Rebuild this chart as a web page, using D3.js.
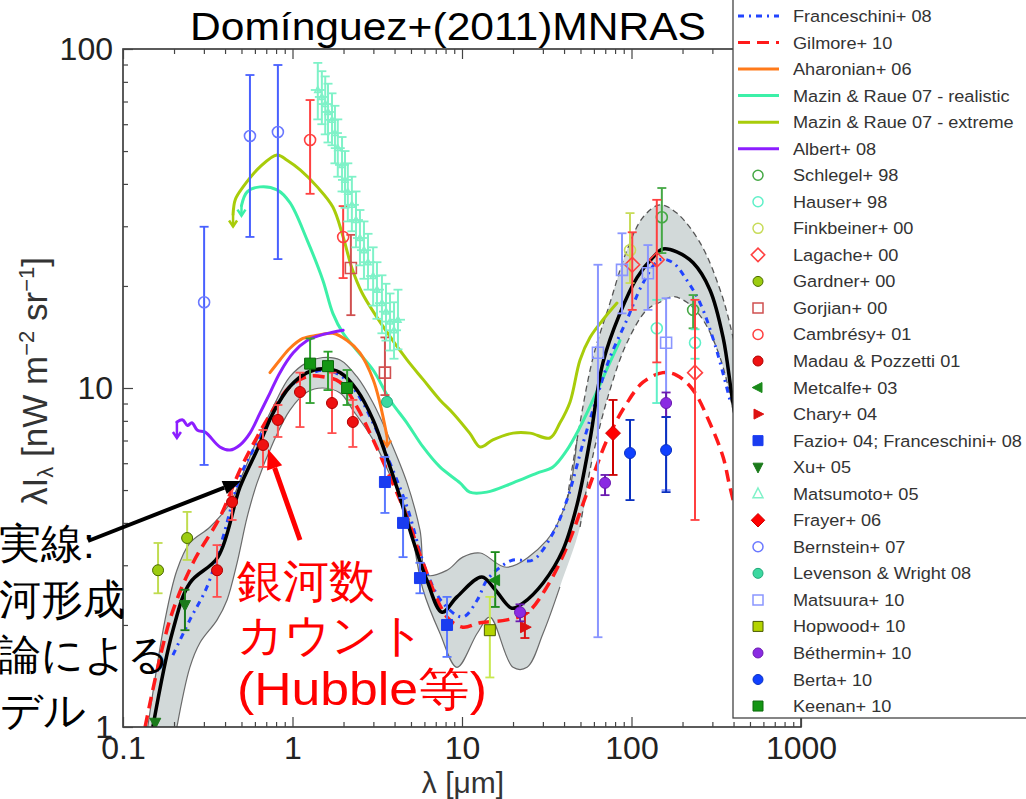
<!DOCTYPE html>
<html><head><meta charset="utf-8">
<script src="https://cdn.jsdelivr.net/npm/d3@7"></script>
<style>
html,body{margin:0;padding:0;background:#fff;}
svg{display:block;}
text{font-family:"Liberation Sans",Arial,Helvetica,sans-serif;}
</style></head><body>
<svg id="chart" width="1026" height="799"></svg>
<script>
// ---------------- data ----------------
const xTickValues = [0.1, 1, 10, 100, 1000];
const xTickLabels = ["0.1", "1", "10", "100", "1000"];
const yTickValues = [1, 10, 100];
const yTickLabels = ["1", "10", "100"];

// model curves: [lambda (um), nuI_nu]
const dominguez11 = [[0.150,1.00],[0.197,1.93],[0.248,2.66],[0.363,3.17],[0.490,5.10],[0.618,6.56],[0.767,8.43],[0.966,10.1],[1.22,11.1],[1.51,11.4],[1.91,11.1],[2.40,9.86],[2.99,8.05],[3.51,6.47],[4.14,5.07],[5.14,3.56],[6.21,2.71],[7.62,2.18],[9.34,2.42],[13.1,2.77],[15.7,2.54],[19.7,2.24],[22.9,2.32],[30.1,2.66],[39.4,3.33],[47.7,4.52],[56.9,7.03],[67.9,11.9],[85.5,16.6],[108,21.2],[134,24.3],[153,25.7],[185,25.2],[231,23.4],[290,19.5],[347,14.1],[397,9.03],[500,4.67]];
const dominguez11Upper = [[0.140,1.0],[0.177,2.07],[0.208,2.90],[0.248,3.49],[0.326,3.89],[0.428,4.58],[0.511,5.61],[0.618,7.03],[0.767,8.79],[0.966,10.8],[1.22,11.9],[1.51,12.3],[1.91,12.1],[2.40,10.8],[2.99,9.03],[3.76,7.03],[4.74,5.25],[5.65,3.81],[6.21,2.81],[8.16,2.90],[10.1,3.17],[12.8,3.26],[18.4,2.96],[31.7,3.56],[41.6,4.67],[47.7,7.03],[59.3,12.3],[74.6,17.8],[94.0,25.5],[117,31.9],[147,34.7],[185,32.8],[254,26.8],[333,19.5],[397,14.1],[573,5.36]];
const dominguez11Lower = [[0.208,1.0],[0.248,1.50],[0.284,1.77],[0.359,2.07],[0.411,2.37],[0.471,3.05],[0.540,4.16],[0.618,5.25],[0.767,6.88],[0.966,8.61],[1.22,9.73],[1.51,10.0],[1.91,9.66],[2.27,8.61],[2.99,7.03],[3.76,5.54],[4.74,4.28],[5.89,2.54],[7.41,1.89],[9.34,1.50],[12.3,1.89],[14.6,2.11],[20.0,1.50],[24.2,1.50],[30.1,1.89],[37.8,2.59],[49.7,3.89],[59.3,6.34],[74.6,9.86],[94.0,13.6],[123,17.0],[147,17.9],[176,18.6],[212,17.9],[264,15.9],[333,12.3],[397,8.61],[535,3.56]];
const franceschini08 = [[0.197,1.63],[0.248,2.07],[0.313,2.59],[0.389,3.63],[0.490,5.46],[0.585,6.56],[0.767,8.43],[0.966,10.1],[1.51,11.3],[1.91,10.9],[2.40,9.66],[2.99,7.88],[3.76,6.01],[4.74,4.46],[6.21,2.85],[7.73,2.32],[10.1,2.11],[12.3,2.37],[14.0,2.71],[16.8,2.96],[20.0,3.11],[26.2,3.11],[34.4,3.73],[41.6,4.67],[51.8,6.88],[62.6,9.41],[74.6,12.3],[94.0,15.9],[117,20.4],[147,23.9],[176,23.4],[212,20.8],[254,17.8],[311,13.4],[381,9.2]];
const gilmore10 = [[0.135,1.0],[0.189,2.07],[0.259,3.05],[0.373,4.16],[0.490,5.73],[0.618,7.17],[0.767,8.61],[0.966,10.1],[1.22,10.8],[1.51,10.8],[1.91,10.4],[2.40,8.79],[2.99,7.03],[3.76,5.46],[4.74,4.16],[5.89,3.05],[8.16,2.11],[10.1,1.97],[12.8,2.03],[18.4,2.07],[24.2,2.17],[31.7,2.59],[41.6,3.40],[54.6,4.90],[71.7,7.03],[94.0,9.03],[117,10.4],[153,11.1],[185,10.9],[231,9.86],[290,7.88],[347,6.26],[381,5.10],[500,3.0]];
const aharonian06 = [[0.736,11.1],[0.843,12.1],[0.966,13.1],[1.15,14.0],[1.40,14.3],[1.73,14.5],[2.10,13.8],[2.50,12.7],[2.99,10.6],[3.28,9.03],[3.61,7.2]];
const mazinRealistic07 = [[0.50,34.5],[0.540,37.9],[0.643,39.2],[0.811,38.4],[0.966,35.2],[1.22,27.3],[1.51,20.8],[1.73,16.6],[1.99,14.5],[2.40,12.9],[2.99,11.3],[3.76,9.22],[4.74,7.88],[5.89,6.70],[7.41,5.85],[9.73,5.25],[11.1,4.93],[14.0,4.93],[20.0,5.25],[27.7,5.61],[34.4,5.85],[41.6,6.56],[49.7,7.67],[59.3,9.22],[74.6,11.9],[85.5,13.8]];
const mazinExtreme07 = [[0.446,32.5],[0.46,36.0],[0.511,39.2],[0.643,44.9],[0.811,48.7],[0.929,47.0],[1.11,44.0],[1.40,39.2],[1.73,34.2],[1.99,27.9],[2.24,22.6],[2.57,19.1],[3.42,15.2],[4.74,12.1],[5.89,10.6],[7.41,9.22],[8.85,8.43],[11.1,7.36],[12.8,6.70],[15.2,7.03],[20.0,7.36],[25.2,7.36],[33.0,7.12],[37.8,7.88],[43.4,9.10],[49.7,12.1],[56.9,14.1],[67.9,15.9],[82.1,17.8]];
const albert08 = [[0.208,7.94],[0.225,8.05],[0.240,7.75],[0.255,7.90],[0.275,7.50],[0.305,7.41],[0.373,6.70],[0.428,6.56],[0.490,6.79],[0.561,7.36],[0.643,8.43],[0.736,9.66],[0.843,11.1],[1.01,12.7],[1.22,13.8],[1.45,14.3],[1.73,14.6],[1.99,14.8]];

// data points: [lambda, value, lower, upper]
const schlegel98 = [[151,31.9,25.0,38.9],[231,17.0,15.0,18.8]];
const hauser98 = [[141,15.0,9.03,18.2],[237,13.6,12.2,14.9]];
const finkbeiner00 = [[98,25.5,20.4,32.8]];
const lagache00 = [[101,23.1,17.0,28.8],[141,23.9,11.9,35.9],[237,11.1,4.08,18.2]];
const gardner00 = [[0.161,2.90,2.48,3.49],[0.239,3.61,3.11,4.31]];
const gorjian00 = [[2.21,22.6,16.4,28.3],[3.51,11.1,9.53,14.1]];
const cambresy01 = [[1.27,53.9,37.4,70.7],[1.99,27.9,21.1,34.4]];
const madau01 = [[0.359,2.90,2.42,3.44],[0.440,4.61,4.08,5.17],[0.670,6.79,5.85,7.52],[0.820,8.05,7.17,8.91],[1.107,9.73,7.67,11.1],[1.71,9.03,7.36,11.1],[2.27,7.94,6.70,9.22]];
const metcalfe03 = [[15.7,2.71,2.26,3.28]];
const chary04 = [[23.5,1.97,1.83,2.17]];
const fazio04 = [[3.51,5.28,4.28,6.26],[4.49,4.00,3.17,4.74],[5.65,2.75,2.48,3.05],[8.16,2.00,1.61,2.42]];
const xu05 = [[0.155,1.03,1.03,1.03],[0.232,2.29,1.93,2.54]];
const matsumoto05 = [[1.41,75.7,62,91],[1.49,72.2,60,86],[1.56,68.8,56,83],[1.62,65.2,53,79],[1.71,61.8,52,74],[1.78,56.5,46,68],[1.85,51.0,42,62],[1.96,45.5,38,55],[2.04,41.1,34,50],[2.12,37.9,31,46],[2.24,34.7,29,42],[2.37,31.3,26,38],[2.50,27.7,23,33.5],[2.64,25.5,21,31],[2.79,23.5,19.5,28.5],[2.99,21.4,17.5,26],[3.15,19.5,16,23.5],[3.37,17.8,14.5,21.5],[3.56,16.8,13.8,20.3],[3.76,15.7,12.9,19],[3.97,14.8,12.2,17.9],[4.19,15.9,13,19.5]];
const frayer06 = [[77.8,7.36,5.54,9.22]];
const bernstein07 = [[0.301,17.9,5.93,29.9],[0.561,55.4,27.9,83.8],[0.820,56.9,24.0,89.7]];
const levenson08 = [[3.61,9.10,9.10,9.10]];
const matsuura10 = [[63.4,12.7,1.84,23.1],[87.9,22.3,16.6,28.6],[125,21.8,17.0,26.4],[160,13.6,5.00,18.4]];
const hopwood10 = [[14.6,1.93,1.40,2.42]];
const bethermin10 = [[22.0,2.18,2.05,2.30],[69.8,5.25,4.83,5.54],[160,9.03,8.21,9.70]];
const berta10 = [[98.0,6.43,4.67,8.05],[160,6.56,4.93,8.21]];
const keenan10 = [[1.27,11.8,9.03,14.0],[1.62,11.6,9.86,12.8],[2.10,10.0,8.91,11.3]];

// ---------------- styles ----------------
const lineSeries = [
  {name:"Franceschini+ 08", data:franceschini08, color:"#2244ff", width:3, dash:"6,5,2,5"},
  {name:"Gilmore+ 10", data:gilmore10, color:"#ff1a1a", width:3.5, dash:"12,7"},
  {name:"Aharonian+ 06", data:aharonian06, color:"#ff7a1a", width:3},
  {name:"Mazin & Raue 07 - realistic", data:mazinRealistic07, color:"#3cf0a8", width:3},
  {name:"Mazin & Raue 07 - extreme", data:mazinExtreme07, color:"#a8cc0a", width:3},
  {name:"Albert+ 08", data:albert08, color:"#8c1eff", width:3}
];
const pointSeries = [
  {name:"Schlegel+ 98", data:schlegel98, shape:"circle", fill:"none", stroke:"#45a845"},
  {name:"Hauser+ 98", data:hauser98, shape:"circle", fill:"none", stroke:"#5ff0c8"},
  {name:"Finkbeiner+ 00", data:finkbeiner00, shape:"circle", fill:"none", stroke:"#c8dc5a"},
  {name:"Lagache+ 00", data:lagache00, shape:"diamond", fill:"none", stroke:"#ff4040"},
  {name:"Gardner+ 00", data:gardner00, shape:"circle", fill:"#9ccc10", stroke:"#4a6a00", err:"#c0dc50"},
  {name:"Gorjian+ 00", data:gorjian00, shape:"square", fill:"none", stroke:"#d05050"},
  {name:"Cambrésy+ 01", data:cambresy01, shape:"circle", fill:"none", stroke:"#ff4040"},
  {name:"Madau & Pozzetti 01", data:madau01, shape:"circle", fill:"#ee1111", stroke:"#b00000", err:"#ff5050"},
  {name:"Metcalfe+ 03", data:metcalfe03, shape:"triLeft", fill:"#1a8a1a", stroke:"#1a8a1a"},
  {name:"Chary+ 04", data:chary04, shape:"triRight", fill:"#dd1111", stroke:"#dd1111"},
  {name:"Fazio+ 04; Franceschini+ 08", data:fazio04, shape:"square", fill:"#1a3cf0", stroke:"#1a3cf0", err:"#5a78ff"},
  {name:"Xu+ 05", data:xu05, shape:"triDown", fill:"#1a7a1a", stroke:"#1a7a1a"},
  {name:"Matsumoto+ 05", data:matsumoto05, shape:"triUp", fill:"none", stroke:"#7ff2c8", hbar:true, r:3},
  {name:"Frayer+ 06", data:frayer06, shape:"diamond", fill:"#ff0000", stroke:"#cc0000"},
  {name:"Bernstein+ 07", data:bernstein07, shape:"circle", fill:"none", stroke:"#6a78ff", err:"#4860ff"},
  {name:"Levenson & Wright 08", data:levenson08, shape:"circle", fill:"#3cd8a0", stroke:"#20a878"},
  {name:"Matsuura+ 10", data:matsuura10, shape:"square", fill:"none", stroke:"#8a96ff"},
  {name:"Hopwood+ 10", data:hopwood10, shape:"square", fill:"#b4d400", stroke:"#4a5a00", err:"#c8e850"},
  {name:"Béthermin+ 10", data:bethermin10, shape:"circle", fill:"#8a2be2", stroke:"#6a1ab0"},
  {name:"Berta+ 10", data:berta10, shape:"circle", fill:"#1040ff", stroke:"#0a30c0"},
  {name:"Keenan+ 10", data:keenan10, shape:"square", fill:"#149614", stroke:"#0a6a0a", err:"#30a030"}
];

// ---------------- chart ----------------
const svg = d3.select("#chart");
const x = d3.scaleLog().domain([0.1, 1000]).range([123, 801]);
const y = d3.scaleLog().domain([1, 100]).range([727, 49]);

svg.append("defs").append("clipPath").attr("id","plotclip")
  .append("rect").attr("x",123).attr("y",49).attr("width",678).attr("height",678);

const plot = svg.append("g").attr("clip-path","url(#plotclip)");
const curve = d3.curveCatmullRom.alpha(0.5);
const lineGen = d3.line().x(d=>x(d[0])).y(d=>y(d[1])).curve(curve);

// uncertainty band
const upPath = lineGen(dominguez11Upper);
const loPath = lineGen(dominguez11Lower.slice().reverse());
plot.append("path").attr("d", upPath + "L" + loPath.slice(1) + "Z")
  .attr("fill","#d2d9d9").attr("stroke","none");
[dominguez11Upper, dominguez11Lower].forEach(b=>{
  plot.append("path").attr("d", lineGen(b.filter(d=>d[0]<=47.7)))
    .attr("fill","none").attr("stroke","#6a6a6a").attr("stroke-width",1.2);
  plot.append("path").attr("d", lineGen(b.filter(d=>d[0]>=41.6)))
    .attr("fill","none").attr("stroke","#555").attr("stroke-width",1.3).attr("stroke-dasharray","6,4");
});

function downArrow(g, d, stem, color){
  const px = x(d[0]), py = y(d[1]);
  g.append("line").attr("x1",px).attr("x2",px).attr("y1",py).attr("y2",py+stem)
    .attr("stroke",color).attr("stroke-width",2.5);
  g.append("path").attr("d",`M${px-4},${py+stem-6}L${px},${py+stem}L${px+4},${py+stem-6}`)
    .attr("fill","none").attr("stroke",color).attr("stroke-width",2.5);
}

// coloured model lines (drawn under the black model)
const order = [3,4,2,5,0,1];
order.forEach(i=>{
  const s = lineSeries[i];
  plot.append("path").attr("d", lineGen(s.data)).attr("fill","none")
    .attr("stroke", s.color).attr("stroke-width", s.width)
    .attr("stroke-dasharray", s.dash || null).attr("stroke-linecap", s.dash ? "butt":"round");
});
downArrow(plot, mazinRealistic07[0], 10, lineSeries[3].color);
downArrow(plot, mazinExtreme07[0], 12, lineSeries[4].color);
downArrow(plot, aharonian06[aharonian06.length-1], 10, lineSeries[2].color);
downArrow(plot, albert08[0], 16, lineSeries[5].color);

// black model line
plot.append("path").attr("d", lineGen(dominguez11)).attr("fill","none")
  .attr("stroke","#000").attr("stroke-width",3.5).attr("stroke-linejoin","round");

function shapePath(shape, r){
  switch(shape){
    case "circle": return d3.symbol(d3.symbolCircle, Math.PI*r*r)();
    case "square": return `M${-r},${-r}H${r}V${r}H${-r}Z`;
    case "diamond": { const s=r*1.35; return `M0,${-s}L${s},0L0,${s}L${-s},0Z`; }
    case "triUp": return `M0,${-r*1.15}L${r},${r*0.8}L${-r},${r*0.8}Z`;
    case "triDown": return `M0,${r*1.15}L${r},${-r*0.8}L${-r},${-r*0.8}Z`;
    case "triLeft": return `M${-r*1.15},0L${r*0.8},${-r}L${r*0.8},${r}Z`;
    case "triRight": return `M${r*1.15},0L${-r*0.8},${-r}L${-r*0.8},${r}Z`;
  }
}

// data points
pointSeries.forEach(s=>{
  const g = plot.append("g");
  const ec = s.err || s.stroke;
  s.data.forEach(d=>{
    const px = x(d[0]);
    if (d[2] !== d[3]) {
      g.append("line").attr("x1",px).attr("x2",px).attr("y1",y(d[2])).attr("y2",y(d[3]))
        .attr("stroke",ec).attr("stroke-width",2);
      [d[2],d[3]].forEach(v=>g.append("line").attr("x1",px-4.5).attr("x2",px+4.5)
        .attr("y1",y(v)).attr("y2",y(v)).attr("stroke",ec).attr("stroke-width",1.8));
    }
    if (s.hbar) g.append("line").attr("x1",px-7).attr("x2",px+7).attr("y1",y(d[1])).attr("y2",y(d[1]))
        .attr("stroke",ec).attr("stroke-width",1.8);
    g.append("path").attr("d", shapePath(s.shape, s.r || 5.5))
      .attr("transform",`translate(${px},${y(d[1])})`)
      .attr("fill", s.fill).attr("stroke", s.stroke).attr("stroke-width", s.fill==="none"?1.6:1);
  });
});

// y-axis title (partly hidden by the annotation box)
const yl = svg.append("text").attr("transform","translate(47,257) rotate(-90)")
  .attr("text-anchor","end").attr("font-size",35).attr("fill","#333");
yl.append("tspan").text("λI");
yl.append("tspan").attr("font-size",22).attr("dy",6).text("λ");
yl.append("tspan").attr("dy",-6).text(" [nW m");
yl.append("tspan").attr("font-size",22).attr("dy",-13).text("−2");
yl.append("tspan").attr("dy",13).text(" sr");
yl.append("tspan").attr("font-size",22).attr("dy",-13).text("−1");
yl.append("tspan").attr("dy",13).text("]");

svg.append("rect").attr("x",0).attr("y",514).attr("width",120).attr("height",285).attr("fill","#fff");

// frame
svg.append("rect").attr("x",123).attr("y",49).attr("width",678).attr("height",678)
  .attr("fill","none").attr("stroke","#333").attr("stroke-width",1.6);

// axes
const minorVals = [];
for (let e=-1;e<3;e++) for (let m=2;m<10;m++) minorVals.push(m*Math.pow(10,e));
const minorY = minorVals.filter(v=>v>1 && v<100);
function styleAxis(g){ g.select(".domain").remove(); g.selectAll("line").attr("stroke","#444").attr("stroke-width",1.2); }

svg.append("g").attr("transform","translate(0,727)")
  .call(d3.axisBottom(x).tickValues(minorVals).tickFormat("").tickSizeInner(-5).tickSizeOuter(0)).call(styleAxis);
svg.append("g").attr("transform","translate(0,49)")
  .call(d3.axisTop(x).tickValues(minorVals).tickFormat("").tickSizeInner(-5).tickSizeOuter(0)).call(styleAxis);
svg.append("g").attr("transform","translate(0,49)")
  .call(d3.axisTop(x).tickValues(xTickValues).tickFormat("").tickSizeInner(-10).tickSizeOuter(0)).call(styleAxis);
svg.append("g").attr("transform","translate(123,0)")
  .call(d3.axisLeft(y).tickValues(minorY).tickFormat("").tickSizeInner(-5).tickSizeOuter(0)).call(styleAxis);

const gx = svg.append("g").attr("transform","translate(0,727)")
  .call(d3.axisBottom(x).tickValues(xTickValues).tickFormat((d,i)=>xTickLabels[i])
    .tickSizeInner(-10).tickSizeOuter(0).tickPadding(9)).call(styleAxis);
gx.selectAll("text").attr("font-size",32).attr("fill","#222")
  .attr("font-family","'Liberation Sans',Arial,sans-serif");
const gy = svg.append("g").attr("transform","translate(123,0)")
  .call(d3.axisLeft(y).tickValues(yTickValues).tickFormat((d,i)=>yTickLabels[i])
    .tickSizeInner(-10).tickSizeOuter(0).tickPadding(10)).call(styleAxis);
gy.selectAll("text").attr("font-size",32).attr("fill","#222")
  .attr("font-family","'Liberation Sans',Arial,sans-serif");

// x-axis title
svg.append("text").attr("x",463).attr("y",793).attr("text-anchor","middle")
  .attr("font-size",30).attr("fill","#333").text("λ [μm]");

// legend
const lg = svg.append("g");
lg.append("rect").attr("x",733).attr("y",-3).attr("width",300).attr("height",721)
  .attr("fill","#fff").attr("stroke","#444").attr("stroke-width",1.3);
const rowY = i => 16 + i*26.54;
lineSeries.forEach((s,i)=>{
  lg.append("line").attr("x1",738).attr("x2",779).attr("y1",rowY(i)).attr("y2",rowY(i))
    .attr("stroke",s.color).attr("stroke-width",3).attr("stroke-dasharray", s.dash || null);
});
pointSeries.forEach((s,j)=>{
  const i = j + lineSeries.length;
  lg.append("path").attr("d", shapePath(s.shape, 5))
    .attr("transform",`translate(758,${rowY(i)})`)
    .attr("fill", s.fill).attr("stroke", s.stroke).attr("stroke-width", s.fill==="none"?1.5:1);
});
lineSeries.concat(pointSeries).forEach((s,i)=>{
  lg.append("text").attr("transform",`translate(793,${rowY(i)+6}) scale(1.1,1)`)
    .attr("font-size",16.5).attr("fill","#333").text(s.name);
});

// title
svg.append("text").attr("x",448).attr("y",40).attr("text-anchor","middle")
  .attr("font-size",38).attr("fill","#000").attr("textLength",516).attr("lengthAdjust","spacingAndGlyphs")
  .text("Domínguez+(2011)MNRAS");

// annotations
function arrow(x1,y1,x2,y2,color,w,hl,hw){
  const a = Math.atan2(y2-y1,x2-x1), c=Math.cos(a), s=Math.sin(a);
  const bx = x2 - hl*c, by = y2 - hl*s;
  svg.append("line").attr("x1",x1).attr("y1",y1).attr("x2",bx).attr("y2",by)
    .attr("stroke",color).attr("stroke-width",w);
  svg.append("path").attr("d",`M${x2},${y2}L${bx - hw*s},${by + hw*c}L${bx + hw*s},${by - hw*c}Z`).attr("fill",color);
}
const jp = "'Noto Sans CJK JP','Noto Sans CJK SC',sans-serif";
["黒実線:","銀河形成","理論による","モデル"].forEach((t,i)=>{
  svg.append("text").attr("x",-43).attr("y",558 + i*55.5).attr("font-size",42)
    .attr("font-family",jp).attr("fill","#000").text(t);
});
arrow(88,541,241,481,"#000",4,18,7);
const redLines = ["銀河数","カウント","(Hubble等)"];
const redWidths = [null, null, 250];
redLines.forEach((t,i)=>{
  const tx = svg.append("text").attr("x",237).attr("y",597 + i*54).attr("font-size",46)
    .attr("font-family",jp).attr("fill","#ff0000").text(t);
  if (redWidths[i]) tx.attr("textLength",redWidths[i]).attr("lengthAdjust","spacingAndGlyphs");
});
arrow(300,540,268,449,"#ff0000",5,20,8);
</script>
</body></html>
